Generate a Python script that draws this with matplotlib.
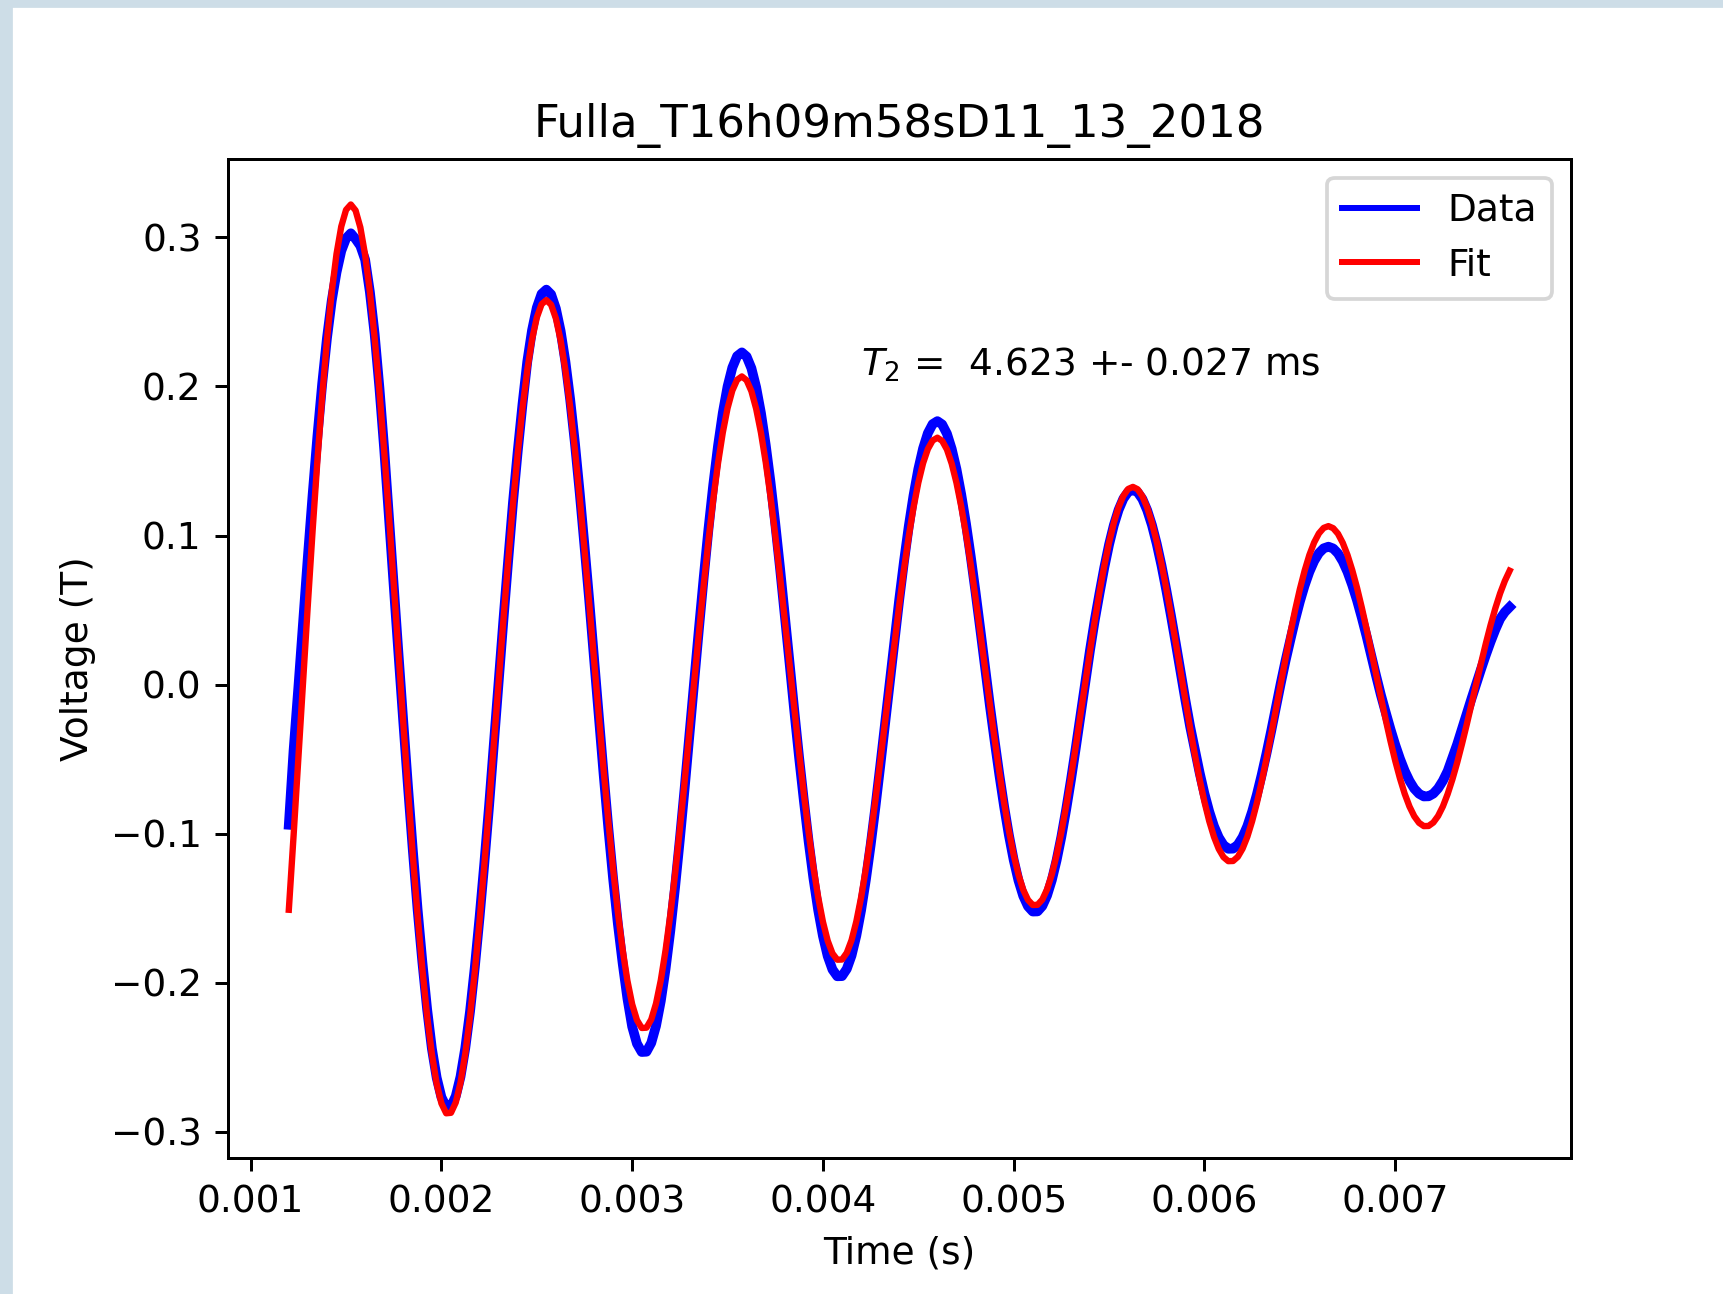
import numpy as np
import matplotlib
matplotlib.use("Agg")
import matplotlib.pyplot as plt
from matplotlib.patches import Rectangle

# sample times (s): 257 samples, 0.025 ms apart
t_start = 0.0012
t_stop = 0.0076
n_samples = 257

data_v = [
    -0.0940, -0.0441, -0.0020, 0.0424, 0.0860, 0.1277, 0.1667, 0.2019, 0.2324, 0.2575,
    0.2765, 0.2909, 0.2993, 0.3027, 0.2989, 0.2943, 0.2850, 0.2633, 0.2350, 0.1990,
    0.1580, 0.1120, 0.0660, 0.0204, -0.0248, -0.0689, -0.1110, -0.1507, -0.1860, -0.2177,
    -0.2441, -0.2636, -0.2767, -0.2832, -0.2829, -0.2761, -0.2630, -0.2438, -0.2192, -0.1896,
    -0.1560, -0.1197, -0.0811, -0.0397, 0.0021, 0.0434, 0.0833, 0.1220, 0.1565, 0.1881,
    0.2166, 0.2376, 0.2528, 0.2620, 0.2649, 0.2617, 0.2522, 0.2371, 0.2166, 0.1912,
    0.1618, 0.1287, 0.0930, 0.0564, 0.0176, -0.0215, -0.0597, -0.0962, -0.1300, -0.1604,
    -0.1868, -0.2105, -0.2294, -0.2408, -0.2464, -0.2462, -0.2403, -0.2289, -0.2122, -0.1907,
    -0.1650, -0.1358, -0.1037, -0.0696, -0.0340, 0.0018, 0.0375, 0.0719, 0.1044, 0.1339,
    0.1601, 0.1822, 0.1999, 0.2126, 0.2203, 0.2228, 0.2200, 0.2122, 0.1994, 0.1822,
    0.1608, 0.1360, 0.1082, 0.0783, 0.0468, 0.0146, -0.0177, -0.0488, -0.0778, -0.1052,
    -0.1297, -0.1511, -0.1686, -0.1821, -0.1911, -0.1956, -0.1955, -0.1907, -0.1817, -0.1684,
    -0.1514, -0.1310, -0.1078, -0.0823, -0.0551, -0.0270, 0.0014, 0.0297, 0.0570, 0.0827,
    0.1062, 0.1269, 0.1445, 0.1584, 0.1686, 0.1747, 0.1767, 0.1745, 0.1683, 0.1581,
    0.1445, 0.1275, 0.1079, 0.0859, 0.0621, 0.0371, 0.0115, -0.0138, -0.0376, -0.0606,
    -0.0819, -0.1010, -0.1176, -0.1313, -0.1417, -0.1487, -0.1522, -0.1521, -0.1485, -0.1414,
    -0.1311, -0.1178, -0.1020, -0.0839, -0.0641, -0.0430, -0.0210, 0.0011, 0.0230, 0.0432,
    0.0612, 0.0785, 0.0939, 0.1069, 0.1172, 0.1247, 0.1292, 0.1306, 0.1290, 0.1244,
    0.1169, 0.1069, 0.0944, 0.0798, 0.0634, 0.0459, 0.0275, 0.0086, -0.0103, -0.0281,
    -0.0438, -0.0592, -0.0731, -0.0851, -0.0950, -0.1025, -0.1076, -0.1101, -0.1100, -0.1074,
    -0.1023, -0.0949, -0.0852, -0.0737, -0.0606, -0.0463, -0.0311, -0.0151, 0.0008, 0.0159,
    0.0298, 0.0433, 0.0556, 0.0664, 0.0756, 0.0829, 0.0882, 0.0914, 0.0925, 0.0913,
    0.0880, 0.0827, 0.0756, 0.0667, 0.0565, 0.0449, 0.0325, 0.0192, 0.0059, -0.0069,
    -0.0185, -0.0298, -0.0403, -0.0497, -0.0579, -0.0646, -0.0698, -0.0732, -0.0750, -0.0749,
    -0.0731, -0.0696, -0.0645, -0.0580, -0.0490, -0.0400, -0.0299, -0.0196, -0.0094, 0.0005,
    0.0103, 0.0198, 0.0287, 0.0369, 0.0441, 0.0487, 0.0520,
]

# fitted curve
fit_v = [
    -0.1510, -0.1012, -0.0496, 0.0026, 0.0542, 0.1039, 0.1507, 0.1935, 0.2313, 0.2633,
    0.2888, 0.3073, 0.3184, 0.3220, 0.3180, 0.3066, 0.2882, 0.2633, 0.2325, 0.1966,
    0.1564, 0.1131, 0.0676, 0.0210, -0.0256, -0.0710, -0.1144, -0.1546, -0.1907, -0.2221,
    -0.2478, -0.2676, -0.2809, -0.2875, -0.2872, -0.2803, -0.2670, -0.2475, -0.2225, -0.1925,
    -0.1584, -0.1209, -0.0811, -0.0397, 0.0021, 0.0434, 0.0833, 0.1208, 0.1550, 0.1853,
    0.2109, 0.2314, 0.2462, 0.2551, 0.2579, 0.2548, 0.2456, 0.2309, 0.2109, 0.1862,
    0.1575, 0.1253, 0.0906, 0.0542, 0.0168, -0.0205, -0.0569, -0.0916, -0.1238, -0.1528,
    -0.1779, -0.1986, -0.2144, -0.2250, -0.2303, -0.2301, -0.2246, -0.2139, -0.1983, -0.1782,
    -0.1542, -0.1269, -0.0969, -0.0650, -0.0318, 0.0017, 0.0348, 0.0667, 0.0968, 0.1242,
    0.1485, 0.1690, 0.1854, 0.1972, 0.2044, 0.2067, 0.2041, 0.1968, 0.1850, 0.1690,
    0.1492, 0.1262, 0.1004, 0.0726, 0.0434, 0.0135, -0.0164, -0.0456, -0.0734, -0.0992,
    -0.1224, -0.1425, -0.1591, -0.1718, -0.1803, -0.1845, -0.1844, -0.1799, -0.1714, -0.1589,
    -0.1428, -0.1236, -0.1017, -0.0776, -0.0520, -0.0255, 0.0013, 0.0279, 0.0534, 0.0775,
    0.0995, 0.1189, 0.1354, 0.1485, 0.1580, 0.1637, 0.1656, 0.1635, 0.1577, 0.1482,
    0.1354, 0.1195, 0.1011, 0.0805, 0.0582, 0.0348, 0.0108, -0.0131, -0.0365, -0.0588,
    -0.0795, -0.0981, -0.1142, -0.1275, -0.1376, -0.1444, -0.1478, -0.1477, -0.1442, -0.1373,
    -0.1273, -0.1144, -0.0990, -0.0815, -0.0622, -0.0417, -0.0204, 0.0011, 0.0223, 0.0428,
    0.0621, 0.0797, 0.0953, 0.1085, 0.1190, 0.1266, 0.1312, 0.1326, 0.1310, 0.1263,
    0.1187, 0.1085, 0.0958, 0.0810, 0.0644, 0.0466, 0.0279, 0.0087, -0.0105, -0.0293,
    -0.0471, -0.0637, -0.0786, -0.0915, -0.1021, -0.1102, -0.1157, -0.1184, -0.1183, -0.1155,
    -0.1100, -0.1020, -0.0916, -0.0793, -0.0652, -0.0498, -0.0334, -0.0164, 0.0009, 0.0179,
    0.0343, 0.0498, 0.0639, 0.0763, 0.0869, 0.0953, 0.1014, 0.1051, 0.1063, 0.1049,
    0.1012, 0.0951, 0.0869, 0.0767, 0.0649, 0.0516, 0.0373, 0.0223, 0.0069, -0.0084,
    -0.0234, -0.0377, -0.0510, -0.0629, -0.0733, -0.0818, -0.0883, -0.0927, -0.0949, -0.0948,
    -0.0925, -0.0881, -0.0817, -0.0734, -0.0635, -0.0523, -0.0399, -0.0268, -0.0131, 0.0007,
    0.0143, 0.0275, 0.0399, 0.0512, 0.0612, 0.0696, 0.0764,
]

title = "Fulla_T16h09m58sD11_13_2018"
t2_text = r"$T_2$ =  4.623 +- 0.027 ms"


def main():
    t = np.linspace(t_start, t_stop, n_samples)

    fig = plt.figure(figsize=(1723 / 270, 1294 / 270), dpi=270)
    # light blue window border from the screenshot
    fig.patches.append(Rectangle((0, 0), 11 / 1723, 1, transform=fig.transFigure,
                                 color="#cddde7", zorder=-1))
    fig.patches.append(Rectangle((0, 1 - 6 / 1294), 1, 6 / 1294, transform=fig.transFigure,
                                 color="#cddde7", zorder=-1))

    ax = fig.add_axes([0.1322, 0.1051, 0.9116 - 0.1322, 0.8771 - 0.1051])
    ax.plot(t, data_v, color="blue", lw=2.6, label="Data")
    ax.plot(t, fit_v, color="red", lw=1.7, label="Fit")

    ax.set_xlim(0.00088, 0.00792)
    ax.set_ylim(-0.3175, 0.3525)
    ax.set_xticks([0.001, 0.002, 0.003, 0.004, 0.005, 0.006, 0.007])
    ax.set_yticks([-0.3, -0.2, -0.1, 0.0, 0.1, 0.2, 0.3])

    ax.text(0.0042, 0.207, t2_text, fontsize=10)
    ax.set_title(title)
    ax.set_xlabel("Time (s)")
    ax.set_ylabel("Voltage (T)")

    leg = ax.legend(loc="upper right")
    for line in leg.get_lines():
        line.set_linewidth(1.6)

    fig.savefig("out.png", dpi=270)


if __name__ == "__main__":
    main()
